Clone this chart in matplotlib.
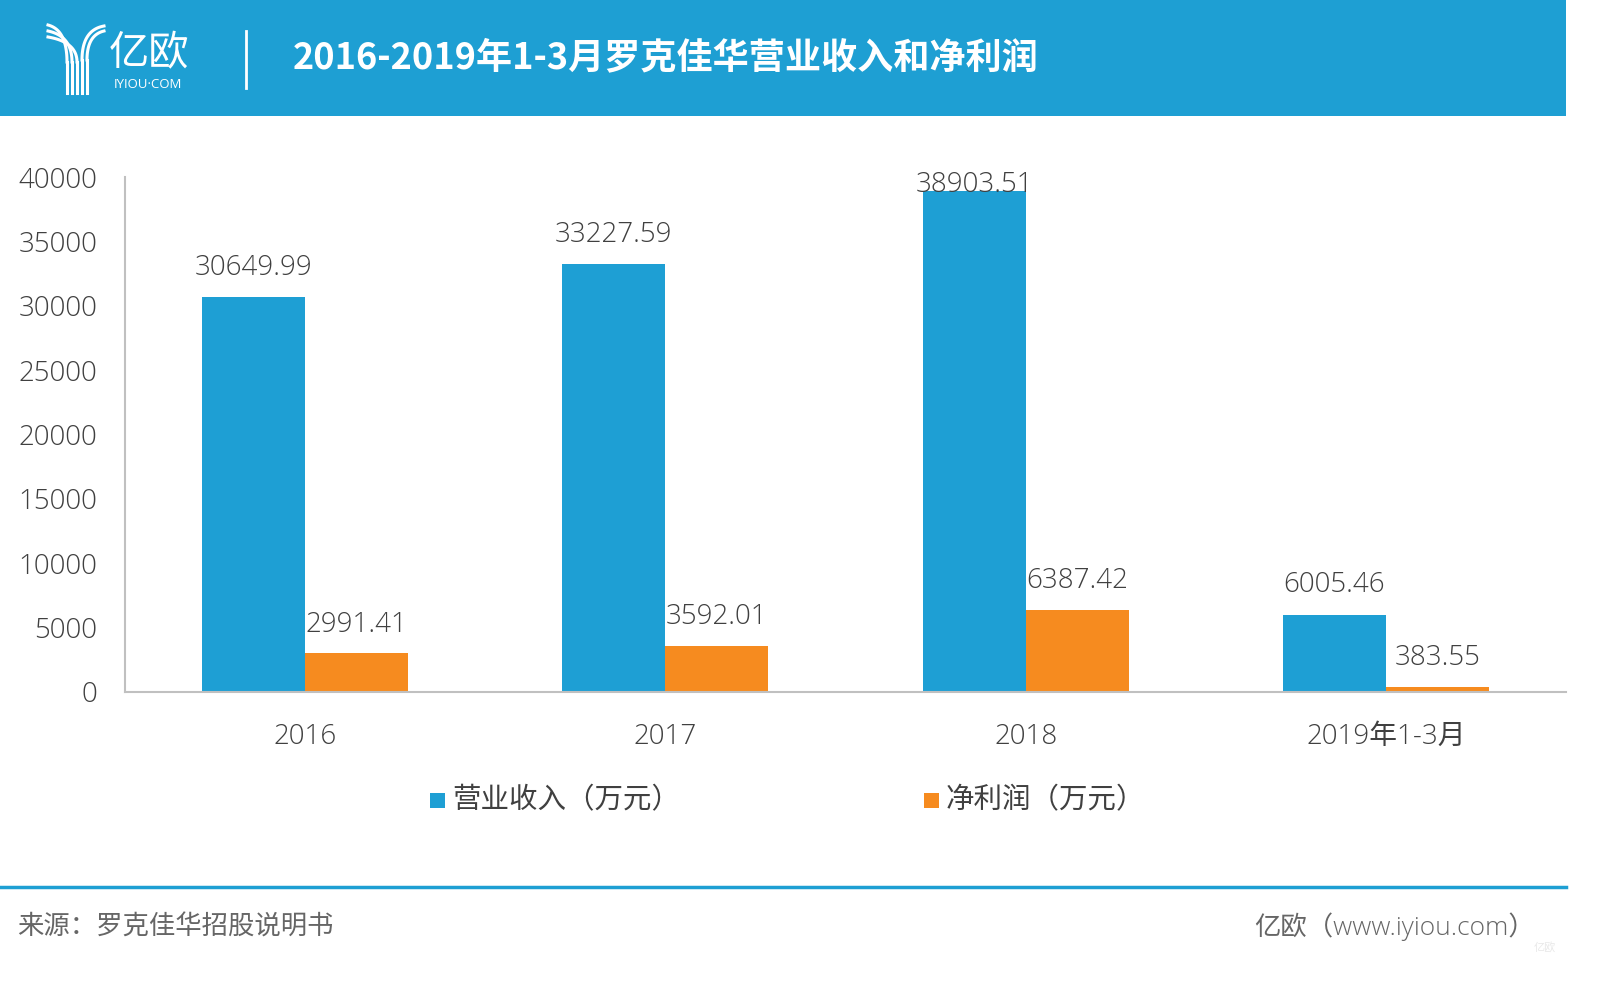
import matplotlib.pyplot as plt
import matplotlib.patches as mpatches
import numpy as np

plt.rcParams["font.family"] = ["Open Sans", "Noto Sans CJK SC", "DejaVu Sans"]

categories = ["2016", "2017", "2018", "2019年1-3月"]
revenue = [30649.99, 33227.59, 38903.51, 6005.46]
profit = [2991.41, 3592.01, 6387.42, 383.55]
series_names = ["营业收入（万元）", "净利润（万元）"]
y_ticks = [0, 5000, 10000, 15000, 20000, 25000, 30000, 35000, 40000]

title = "2016-2019年1-3月罗克佳华营业收入和净利润"
source = "来源：罗克佳华招股说明书"
credit = "亿欧（www.iyiou.com）"

BLUE = "#1E9FD4"
ORANGE = "#F68B1F"
HEADER = "#1E9FD3"
TEXT = "#404040"
CJK = ["Noto Sans CJK SC", "DejaVu Sans"]

W, H = 1603, 986
fig = plt.figure(figsize=(W / 100, H / 100), dpi=100)
fig.patch.set_facecolor("white")


def px(x, y):
    # pixel coords (from top-left) -> figure fraction
    return x / W, 1 - y / H


def fig_line(p, q, **kw):
    xs, ys = zip(px(*p), px(*q))
    fig.add_artist(plt.Line2D(xs, ys, transform=fig.transFigure, **kw))


# header band
fig.patches.append(mpatches.Rectangle(px(0, 116), 1566 / W, 116 / H, transform=fig.transFigure,
                                      facecolor=HEADER, edgecolor="none", zorder=0))

# logo: stylised Y made of parallel strokes
t = np.linspace(0, 1, 40)


def bezier(p0, p1, p2):
    p0, p1, p2 = map(np.array, (p0, p1, p2))
    pts = ((1 - t) ** 2)[:, None] * p0 + (2 * (1 - t) * t)[:, None] * p1 + (t ** 2)[:, None] * p2
    xs, ys = zip(*[px(a, b) for a, b in pts])
    fig.add_artist(plt.Line2D(xs, ys, transform=fig.transFigure, color="white", lw=2.2))


for k in range(3):
    sx = 67 + 5 * k
    bezier((48, 25 + 6 * k), (sx, 30 + 6 * k), (sx, 62))
    fig_line((sx, 62), (sx, 93), color="white", lw=2.2)
for k in range(2):
    sx = 82 + 5 * k
    bezier((sx, 60), (sx, 30 + 5 * k), (104, 26 + 5 * k))
    fig_line((sx, 60), (sx, 93), color="white", lw=2.2)

fig.text(*px(109, 54), "亿欧", color="white", fontsize=29, family=CJK, fontweight="light",
         va="center", ha="left")
fig.text(*px(114, 84), "IYIOU·COM", color="white", fontsize=9.5, va="center", ha="left")
fig_line((246, 31), (246, 88), color="white", lw=2)

fig.text(*px(293, 58), title, color="white", fontsize=26, family=CJK, fontweight="bold",
         va="center", ha="left")

# main axes
left, right, top, bottom = 125, 1566, 177, 692
ax = fig.add_axes([left / W, 1 - bottom / H, (right - left) / W, (bottom - top) / H])
x = np.arange(len(categories))
bw = 0.286
ax.bar(x - bw / 2, revenue, bw, color=BLUE, label=series_names[0], zorder=2)
ax.bar(x + bw / 2, profit, bw, color=ORANGE, label=series_names[1], zorder=2)

ax.set_xlim(-0.5, len(categories) - 0.5)
ax.set_ylim(0, 40000)
ax.set_yticks(y_ticks)
ax.set_yticklabels([str(v) for v in y_ticks])
ax.set_xticks(x)
ax.set_xticklabels(categories)
ax.tick_params(axis="both", length=0, labelsize=20, labelcolor=TEXT)
ax.tick_params(axis="y", pad=20)
ax.tick_params(axis="x", pad=22)
for lbl in ax.get_xticklabels() + ax.get_yticklabels():
    lbl.set_fontweight("light")
for s in ["top", "right"]:
    ax.spines[s].set_visible(False)
for s in ["left", "bottom"]:
    ax.spines[s].set_color("#C0C0C0")
    ax.spines[s].set_linewidth(1.5)
ax.set_facecolor("none")

for xi, v in zip(x, revenue):
    ax.text(xi - bw / 2, min(v + 2300, 39400), f"{v:.2f}", ha="center", va="center",
            fontsize=20, color=TEXT, fontweight="light", zorder=3)
for xi, v in zip(x, profit):
    ax.text(xi + bw / 2, v + 2250, f"{v:.2f}", ha="center", va="center",
            fontsize=20, color=TEXT, fontweight="light", zorder=3)

# legend
for (lx, name, col) in [(430, series_names[0], BLUE), (924, series_names[1], ORANGE)]:
    fig.patches.append(mpatches.Rectangle(px(lx, 808), 15 / W, 15 / H, transform=fig.transFigure,
                                          facecolor=col, edgecolor="none"))
    fig.text(*px(lx + 22, 800), name, color=TEXT, fontsize=20.5, family=CJK, fontweight="light",
             va="center", ha="left")

# footer
fig_line((0, 887), (1566, 887), color=HEADER, lw=2.5)
fig.text(*px(17, 927), source, color="#666666", fontsize=19, family=CJK, fontweight="light",
         va="center", ha="left")
fig.text(*px(1535, 927), credit, color="#666666", fontsize=19, fontweight="light",
         va="center", ha="right")
fig.text(*px(1545, 947), "亿欧", color="#E8E8E8", fontsize=8, family=CJK, va="center", ha="center")

fig.savefig("out.png", dpi=100)
